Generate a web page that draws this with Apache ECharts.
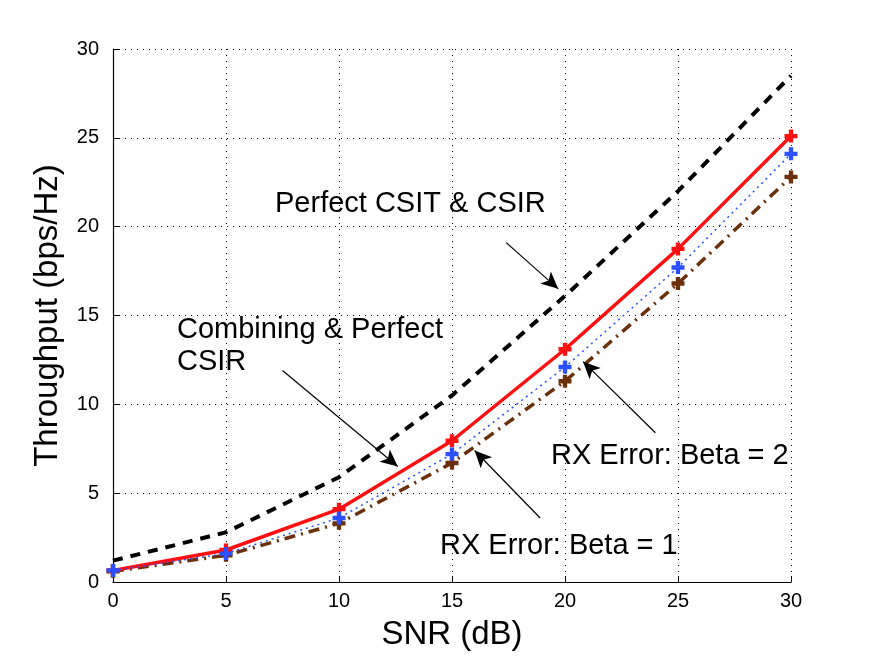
<!DOCTYPE html>
<html><head><meta charset="utf-8">
<script src="https://cdn.jsdelivr.net/npm/echarts@6/dist/echarts.min.js"></script>
<style>html,body{margin:0;padding:0;background:#fff}#c{width:873px;height:656px}</style>
</head><body><div id="c"></div>
<script>
const snr = [0, 5, 10, 15, 20, 25, 30];
const perfectCsitCsir = [1.2, 2.8, 5.9, 10.5, 16.1, 22.0, 28.5];
const combiningPerfectCsir = [0.65, 1.8, 4.1, 7.95, 13.1, 18.75, 25.1];
const rxErrorBeta1 = [0.65, 1.6, 3.6, 7.2, 12.1, 17.7, 24.1];
const rxErrorBeta2 = [0.6, 1.5, 3.3, 6.7, 11.3, 16.8, 22.8];
const xTicks = [0, 5, 10, 15, 20, 25, 30];
const yTicks = [0, 5, 10, 15, 20, 25, 30];
// annotation arrows: [from, to] in data coordinates
const arrows = [
  [[17.4, 19.1], [19.7, 16.5]],
  [[7.5, 11.9], [12.6, 6.5]],
  [[24.0, 8.4], [20.8, 12.4]],
  [[18.9, 3.6], [16.0, 7.4]]
];

const plus = 'path://M-1,-3 L1,-3 L1,-1 L3,-1 L3,1 L1,1 L1,3 L-1,3 L-1,1 L-3,1 L-3,-1 L-1,-1 Z';
const font = '"Liberation Sans", Arial, Helvetica, sans-serif';
const pairs = a => snr.map((x, i) => [x, a[i]]);

const chart = echarts.init(document.getElementById('c'));
chart.setOption({
  animation: false,
  backgroundColor: '#fff',
  grid: { left: 113, right: 82, top: 49, bottom: 72 },
  xAxis: {
    type: 'value', min: 0, max: 30, interval: 5,
    name: 'SNR (dB)', nameLocation: 'middle', nameGap: 36,
    nameTextStyle: { fontSize: 33, color: '#000', fontFamily: font },
    axisLine: { lineStyle: { color: '#000', width: 1.2 } },
    axisTick: { inside: true, length: 6, lineStyle: { color: '#000' } },
    axisLabel: { fontSize: 20, color: '#000', fontFamily: font, margin: 9,
      formatter: v => xTicks.includes(v) ? String(v) : '' },
    splitLine: { show: true, lineStyle: { color: '#000', type: [1, 5], width: 1 } }
  },
  yAxis: {
    type: 'value', min: 0, max: 30, interval: 5,
    name: 'Throughput (bps/Hz)', nameLocation: 'middle', nameGap: 49, nameRotate: 90,
    nameTextStyle: { fontSize: 33, color: '#000', fontFamily: font },
    axisLine: { show: true, lineStyle: { color: '#000', width: 1.2 } },
    axisTick: { show: true, inside: true, length: 6, lineStyle: { color: '#000' } },
    axisLabel: { fontSize: 20, color: '#000', fontFamily: font, margin: 14,
      formatter: v => yTicks.includes(v) ? String(v) : '' },
    splitLine: { show: true, lineStyle: { color: '#000', type: [1, 5], width: 1 } }
  },
  series: [
    {
      name: 'Perfect CSIT & CSIR', type: 'line', data: pairs(perfectCsitCsir),
      symbol: 'none', lineStyle: { color: '#000', width: 4, type: [10, 8] }, z: 3
    },
    {
      name: 'RX Error: Beta = 2', type: 'line', data: pairs(rxErrorBeta2),
      symbol: plus, symbolSize: 13, itemStyle: { color: '#6b300a' },
      lineStyle: { color: '#6b300a', width: 3.5, type: [11, 6, 2, 6] }, z: 4
    },
    {
      name: 'Combining & Perfect CSIR', type: 'line', data: pairs(combiningPerfectCsir),
      symbol: plus, symbolSize: 13, itemStyle: { color: '#ff1010' },
      lineStyle: { color: '#ff1010', width: 3.5 }, z: 5
    },
    {
      name: 'RX Error: Beta = 1', type: 'line', data: pairs(rxErrorBeta1),
      symbol: plus, symbolSize: 13, itemStyle: { color: '#2a50ff' },
      lineStyle: { color: '#2a50ff', width: 1.5, type: [2, 4] }, z: 6
    },
    {
      name: 'arrows', type: 'line', data: [], symbol: 'none',
      markLine: {
        silent: true, animation: false,
        symbol: ['none', 'arrow'], symbolSize: [12, 17],
        lineStyle: { color: '#000', width: 1.2, type: 'solid' },
        label: { show: false },
        data: arrows.map(a => [{ coord: a[0] }, { coord: a[1] }])
      }
    }
  ],
  graphic: [
    { type: 'text', left: 275, top: 189, style: { text: 'Perfect CSIT & CSIR', fontSize: 29, fill: '#000', fontFamily: font } },
    { type: 'text', left: 177, top: 314, style: { text: 'Combining & Perfect\nCSIR', fontSize: 29, lineHeight: 32, fill: '#000', fontFamily: font } },
    { type: 'text', left: 551, top: 441, style: { text: 'RX Error: Beta = 2', fontSize: 29, fill: '#000', fontFamily: font } },
    { type: 'text', left: 440, top: 531, style: { text: 'RX Error: Beta = 1', fontSize: 29, fill: '#000', fontFamily: font } }
  ]
});
</script></body></html>
